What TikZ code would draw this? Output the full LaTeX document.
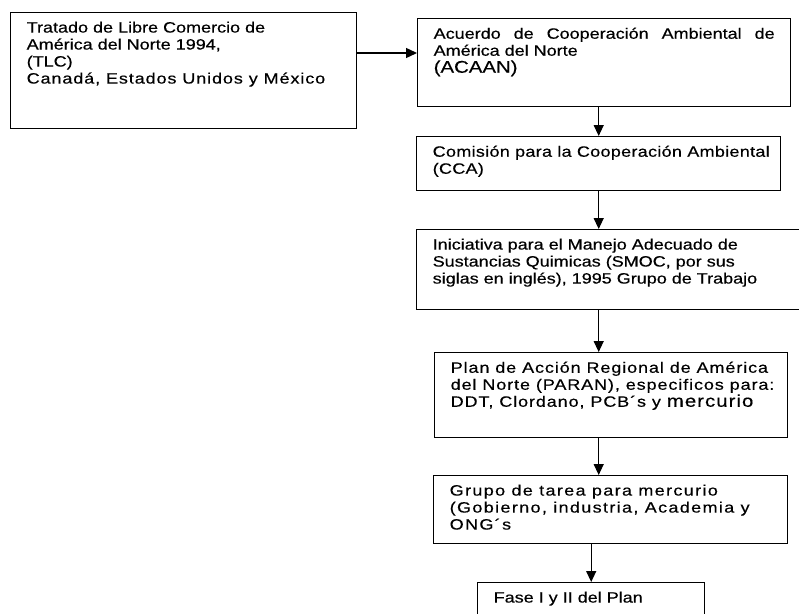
\documentclass[tikz,border=0pt]{standalone}
\usepackage{fontspec}
\setmainfont{Liberation Sans}[FakeStretch=1.2,FakeBold=0.35]
\usetikzlibrary{arrows.meta}

% texto de cada caja: ancho y alto totales de la caja
\newcommand{\cajatexto}[3]{\parbox[t][\dimexpr#2pt-18pt\relax][t]{\dimexpr#1pt-32pt\relax}{\raggedright#3}}

\begin{document}
\begin{tikzpicture}[x=1pt,y=-1pt,
    caja/.style={draw,line width=1.4pt,anchor=north west,inner xsep=16pt,inner ysep=9pt,
      font=\fontsize{15}{17}\selectfont},
    flecha/.style={line width=1.4pt,-{Triangle[length=11pt,width=10pt]}}]
    \fill[white] (0,0) rectangle (799,613);
    \useasboundingbox (0,0) rectangle (799,613);
    \node[caja] (tlc) at (10,12) {\cajatexto{346}{116}{Tratado de Libre Comercio de\\
        América del Norte 1994,\\ (TLC)\\ {\addfontfeatures{LetterSpace=6}Canadá, Estados Unidos y México}}};
    \node[caja] (acaan) at (417,18) {\cajatexto{373}{88}{\makebox[\linewidth][s]{Acuerdo de Cooperación Ambiental de}\\
        América del Norte\\ {\fontsize{17}{19}\selectfont (ACAAN)}}};
    \node[caja] (cca) at (416,136) {\cajatexto{364}{54}{\addfontfeatures{LetterSpace=2}\mbox{Comisión para la Cooperación Ambiental}\\ (CCA)}};
    \node[caja] (smoc) at (416,229) {\cajatexto{400}{80}{Iniciativa para el Manejo Adecuado de\\
        Sustancias Quimicas (SMOC, por sus\\ siglas en inglés), 1995 Grupo de Trabajo}};
    \node[caja] (paran) at (434,352) {\cajatexto{353}{85}{\addfontfeatures{LetterSpace=6}\mbox{Plan de Acción Regional de América}\\
        \mbox{del Norte (PARAN), especificos para:}\\ DDT, Clordano, PCB´s y {\fontsize{17}{17}\selectfont mercurio}}};
    \node[caja] (grupo) at (433,475) {\cajatexto{354}{68}{\addfontfeatures{LetterSpace=9}Grupo de tarea para mercurio\\
        (Gobierno, industria, Academia y\\ ONG´s}};
    \node[caja] (fase) at (477,582) {\cajatexto{227}{50}{Fase I y II del Plan}};

    \coordinate (salida) at ([yshift=-41pt]tlc.north east);
    \draw[flecha] (salida) -- (salida -| acaan.west);
    \draw[flecha] (acaan.south -| cca.south) -- (cca.north);
    \draw[flecha] (cca.south) -- (smoc.north -| cca.south);
    \draw[flecha] (smoc.south -| cca.south) -- (paran.north -| cca.south);
    \draw[flecha] (paran.south -| cca.south) -- (grupo.north -| cca.south);
    \draw[flecha] (grupo.south -| fase.north) -- (fase.north);
\end{tikzpicture}
\end{document}
